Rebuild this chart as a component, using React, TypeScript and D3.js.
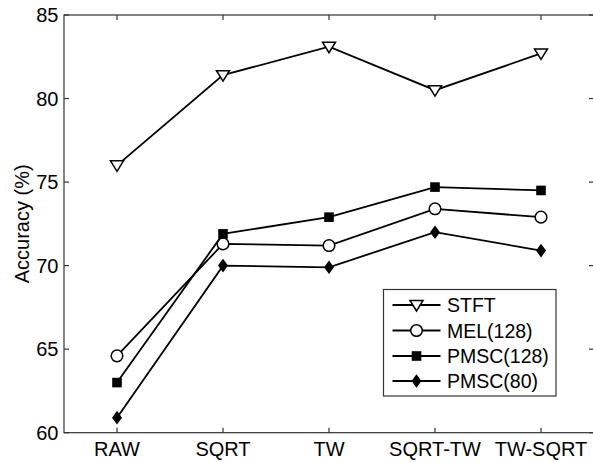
import React from 'react';
import * as d3 from 'd3';

const categories = ['RAW', 'SQRT', 'TW', 'SQRT-TW', 'TW-SQRT'];
const stft = [76.0, 81.4, 83.1, 80.5, 82.7];
const mel128 = [64.6, 71.3, 71.2, 73.4, 72.9];
const pmsc128 = [63.0, 71.9, 72.9, 74.7, 74.5];
const pmsc80 = [60.9, 70.0, 69.9, 72.0, 70.9];
const yTicks = [60, 65, 70, 75, 80, 85];

const seriesList = [
  { name: 'STFT', values: stft, marker: 'tri' },
  { name: 'MEL(128)', values: mel128, marker: 'circle' },
  { name: 'PMSC(128)', values: pmsc128, marker: 'square' },
  { name: 'PMSC(80)', values: pmsc80, marker: 'diamond' },
];

const W = 593;
const H = 462;
const left = 64;
const right = 594;
const top = 15;
const bottom = 432.7;
const font = 'Liberation Sans, Arial, sans-serif';

const Marker = ({ type, x, y }: { type: string; x: number; y: number }) => {
  if (type === 'tri') {
    return (
      <path
        d={`M${x - 6.5},${y - 4.5}L${x + 6.5},${y - 4.5}L${x},${y + 6}Z`}
        fill="#fff"
        stroke="#000"
        strokeWidth={1.5}
      />
    );
  }
  if (type === 'circle') {
    return <circle cx={x} cy={y} r={5.8} fill="#fff" stroke="#000" strokeWidth={1.5} />;
  }
  if (type === 'square') {
    return <rect x={x - 4.8} y={y - 4.8} width={9.6} height={9.6} fill="#000" />;
  }
  return (
    <path d={`M${x},${y - 6.8}L${x + 5},${y}L${x},${y + 6.8}L${x - 5},${y}Z`} fill="#000" />
  );
};

export default function App() {
  const x = d3.scalePoint<string>().domain(categories).range([left, right]).padding(0.5);
  const y = d3.scaleLinear().domain([60, 85]).range([bottom, top]);
  const line = d3
    .line<number>()
    .x((_, i) => x(categories[i]) as number)
    .y((d) => y(d));

  const legX = 383.5;
  const legY = 289.5;
  const legW = 172.5;
  const legH = 106.5;
  const rowY = [305, 330.5, 356, 381];

  return (
    <svg
      width={W}
      height={H}
      style={{ position: 'absolute', left: 0, top: 0, background: '#fff' }}
      fontFamily={font}
    >
      <rect x={0} y={0} width={W} height={H} fill="#fff" />
      {/* axes box */}
      <rect
        x={left}
        y={top}
        width={right - left}
        height={bottom - top}
        fill="none"
        stroke="#333"
        strokeWidth={1.2}
      />
      {yTicks.map((t) => (
        <g key={t}>
          <line x1={left} x2={left + 5} y1={y(t)} y2={y(t)} stroke="#333" strokeWidth={1.2} />
          <line x1={right} x2={right - 5} y1={y(t)} y2={y(t)} stroke="#333" strokeWidth={1.2} />
          <text
            x={58.5}
            y={y(t)}
            dy="0.35em"
            textAnchor="end"
            fontSize={20}
            fill="#000"
          >
            {t}
          </text>
        </g>
      ))}
      {categories.map((c) => (
        <g key={c}>
          <line x1={x(c)} x2={x(c)} y1={bottom} y2={bottom - 5} stroke="#333" strokeWidth={1.2} />
          <line x1={x(c)} x2={x(c)} y1={top} y2={top + 5} stroke="#333" strokeWidth={1.2} />
          <text x={x(c)} y={455.5} textAnchor="middle" fontSize={20} fill="#000">
            {c}
          </text>
        </g>
      ))}
      <text
        transform={`translate(29,${(top + bottom) / 2}) rotate(-90)`}
        textAnchor="middle"
        fontSize={20}
        fill="#000"
      >
        Accuracy (%)
      </text>

      {seriesList.map((s) => (
        <g key={s.name}>
          <path d={line(s.values) as string} fill="none" stroke="#000" strokeWidth={1.8} />
          {s.values.map((v, i) => (
            <Marker key={i} type={s.marker} x={x(categories[i]) as number} y={y(v)} />
          ))}
        </g>
      ))}

      {/* legend */}
      <rect x={legX} y={legY} width={legW} height={legH} fill="#fff" stroke="#333" strokeWidth={1.2} />
      {seriesList.map((s, i) => (
        <g key={s.name}>
          <line x1={392.5} x2={440.5} y1={rowY[i]} y2={rowY[i]} stroke="#000" strokeWidth={1.8} />
          <Marker type={s.marker} x={416.5} y={rowY[i]} />
          <text x={447} y={rowY[i]} dy="0.36em" fontSize={19.5} fill="#000">
            {s.name}
          </text>
        </g>
      ))}
    </svg>
  );
}
